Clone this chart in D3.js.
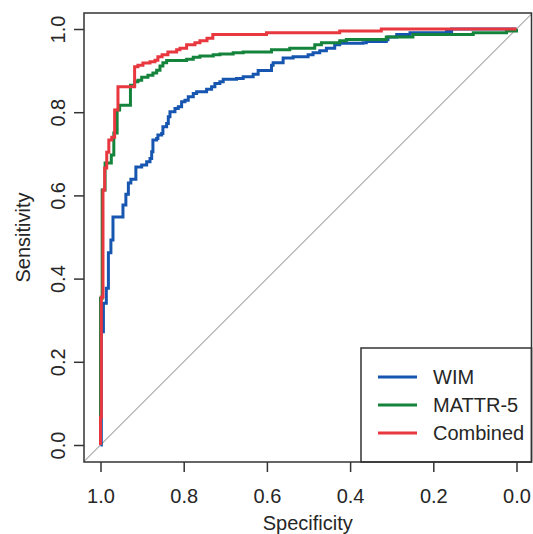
<!DOCTYPE html>
<html><head><meta charset="utf-8">
<script src="https://cdn.jsdelivr.net/npm/d3@7"></script>
<style>
body{margin:0;background:#fff}
text{font-family:"Liberation Sans",Arial,Helvetica,sans-serif;fill:#262626}
</style>
</head><body><svg id="c" width="533" height="534"></svg>
<script>
// ---- data ----
const seriesNames = ["WIM", "MATTR-5", "Combined"];
const seriesColors = ["#1656b0", "#14843c", "#e8373e"];

const wimSpec = [1.0,0.998,0.993,0.986,0.981,0.975,0.970,0.946,0.939,0.933,0.927,0.915,0.901,0.889,0.881,0.877,0.874,0.865,0.862,0.853,0.850,0.841,0.837,0.833,0.821,0.813,0.805,0.797,0.789,0.777,0.769,0.745,0.733,0.725,0.713,0.705,0.673,0.657,0.633,0.621,0.589,0.585,0.561,0.537,0.501,0.489,0.473,0.457,0.437,0.425,0.369,0.361,0.313,0.309,0.288,0.256,0.168,0.156,0.0];
const wimSens = [0,0.272,0.341,0.377,0.462,0.493,0.548,0.577,0.603,0.630,0.639,0.668,0.673,0.681,0.689,0.705,0.733,0.737,0.745,0.749,0.765,0.773,0.789,0.801,0.809,0.813,0.825,0.829,0.837,0.845,0.849,0.855,0.861,0.869,0.873,0.879,0.881,0.885,0.891,0.900,0.913,0.919,0.930,0.933,0.938,0.943,0.948,0.954,0.962,0.966,0.967,0.970,0.974,0.981,0.987,0.991,0.994,1.0,1.0];

const mattrSpec = [1.0,1.0,0.996,0.989,0.974,0.968,0.960,0.954,0.928,0.918,0.910,0.901,0.886,0.874,0.865,0.857,0.850,0.841,0.793,0.777,0.761,0.729,0.713,0.681,0.657,0.589,0.545,0.485,0.469,0.425,0.409,0.313,0.249,0.104,0.024,0.0];
const mattrSens = [0,0.353,0.613,0.678,0.697,0.750,0.805,0.817,0.865,0.873,0.877,0.884,0.889,0.894,0.901,0.911,0.919,0.924,0.927,0.932,0.935,0.938,0.940,0.943,0.945,0.950,0.954,0.962,0.967,0.972,0.975,0.981,0.987,0.991,0.995,1.0];

const combSpec = [1.0,1.0,0.998,0.994,0.990,0.985,0.980,0.973,0.966,0.958,0.918,0.910,0.898,0.881,0.869,0.862,0.852,0.838,0.817,0.809,0.793,0.773,0.761,0.744,0.730,0.601,0.425,0.325,0.0];
const combSens = [0,0.067,0.356,0.613,0.666,0.704,0.733,0.740,0.805,0.861,0.909,0.913,0.918,0.921,0.925,0.933,0.938,0.945,0.950,0.954,0.962,0.967,0.972,0.978,0.987,0.991,0.995,1.0,1.0];

const xTicks = [1.0, 0.8, 0.6, 0.4, 0.2, 0.0];
const yTicks = [0.0, 0.2, 0.4, 0.6, 0.8, 1.0];
const xTitle = "Specificity";
const yTitle = "Sensitivity";

// ---- layout ----
const box = {l: 84, r: 531.5, t: 13, b: 462};
const x = d3.scaleLinear().domain([1, 0]).range([100.5, 516.5]);
const y = d3.scaleLinear().domain([0, 1]).range([445, 29]);

const svg = d3.select("#c");
svg.append("rect").attr("width", 533).attr("height", 534).attr("fill", "#fff");

svg.append("defs").append("clipPath").attr("id", "clip")
  .append("rect").attr("x", box.l).attr("y", box.t)
  .attr("width", box.r - box.l).attr("height", box.b - box.t);

const plot = svg.append("g").attr("clip-path", "url(#clip)");

// reference diagonal (sens = 1 - spec)
const diagSpec = [1.2, -0.2];
plot.append("line")
  .attr("x1", x(diagSpec[0])).attr("y1", y(1 - diagSpec[0]))
  .attr("x2", x(diagSpec[1])).attr("y2", y(1 - diagSpec[1]))
  .attr("stroke", "#a8a8a8").attr("stroke-width", 1.1);

const series = [
  {spec: wimSpec, sens: wimSens},
  {spec: mattrSpec, sens: mattrSens},
  {spec: combSpec, sens: combSens}
];
const line = d3.line().curve(d3.curveStepAfter)
  .x(d => x(d[0])).y(d => y(d[1]));

series.forEach((s, i) => {
  const pts = s.spec.map((v, j) => [v, s.sens[j]]);
  plot.append("path").datum(pts)
    .attr("d", line)
    .attr("fill", "none")
    .attr("stroke", seriesColors[i])
    .attr("stroke-width", 3)
    .attr("stroke-linejoin", "miter")
    .attr("stroke-linecap", "butt");
});

// ---- axes ----
const xAxis = svg.append("g").attr("transform", `translate(0,${box.b})`)
  .call(d3.axisBottom(x).tickValues(xTicks).tickSize(10).tickPadding(0).tickFormat(d3.format(".1f")));
xAxis.select(".domain").remove();
xAxis.selectAll(".tick line").attr("stroke", "#333").attr("stroke-width", 1.5);
xAxis.selectAll(".tick text").attr("y", 40.5).attr("dy", null)
  .attr("font-size", 20).attr("fill", "#262626")
  .style("font-family", '"Liberation Sans",Arial,sans-serif');

const yAxis = svg.append("g").attr("transform", `translate(${box.l},0)`)
  .call(d3.axisLeft(y).tickValues(yTicks).tickSize(10).tickPadding(0).tickFormat(d3.format(".1f")));
yAxis.select(".domain").remove();
yAxis.selectAll(".tick line").attr("stroke", "#333").attr("stroke-width", 1.5);
yAxis.selectAll(".tick text")
  .attr("x", null).attr("dy", null)
  .attr("transform", "translate(-19.5,0) rotate(-90)")
  .attr("text-anchor", "middle")
  .attr("font-size", 20).attr("fill", "#262626")
  .style("font-family", '"Liberation Sans",Arial,sans-serif');

// axis titles
svg.append("text").text(xTitle)
  .attr("x", (box.l + box.r) / 2).attr("y", 529.5)
  .attr("text-anchor", "middle").attr("font-size", 20);
svg.append("text").text(yTitle)
  .attr("transform", `translate(30,${(box.t + box.b) / 2}) rotate(-90)`)
  .attr("text-anchor", "middle").attr("font-size", 20);

// ---- legend ----
const leg = {x: 361, y: 348, w: box.r - 361, h: box.b - 348};
const lg = svg.append("g");
lg.append("rect").attr("x", leg.x).attr("y", leg.y).attr("width", leg.w).attr("height", leg.h)
  .attr("fill", "#fff").attr("stroke", "#333").attr("stroke-width", 1.5);
seriesNames.forEach((n, i) => {
  const cy = 377 + i * 28;
  lg.append("line").attr("x1", 378).attr("x2", 417).attr("y1", cy).attr("y2", cy)
    .attr("stroke", seriesColors[i]).attr("stroke-width", 3);
  lg.append("text").text(n).attr("x", 433).attr("y", cy + 7)
    .attr("font-size", 20);
});

// ---- plot frame ----
svg.append("rect").attr("x", box.l).attr("y", box.t)
  .attr("width", box.r - box.l).attr("height", box.b - box.t)
  .attr("fill", "none").attr("stroke", "#333").attr("stroke-width", 1.5);
</script>
</body></html>
